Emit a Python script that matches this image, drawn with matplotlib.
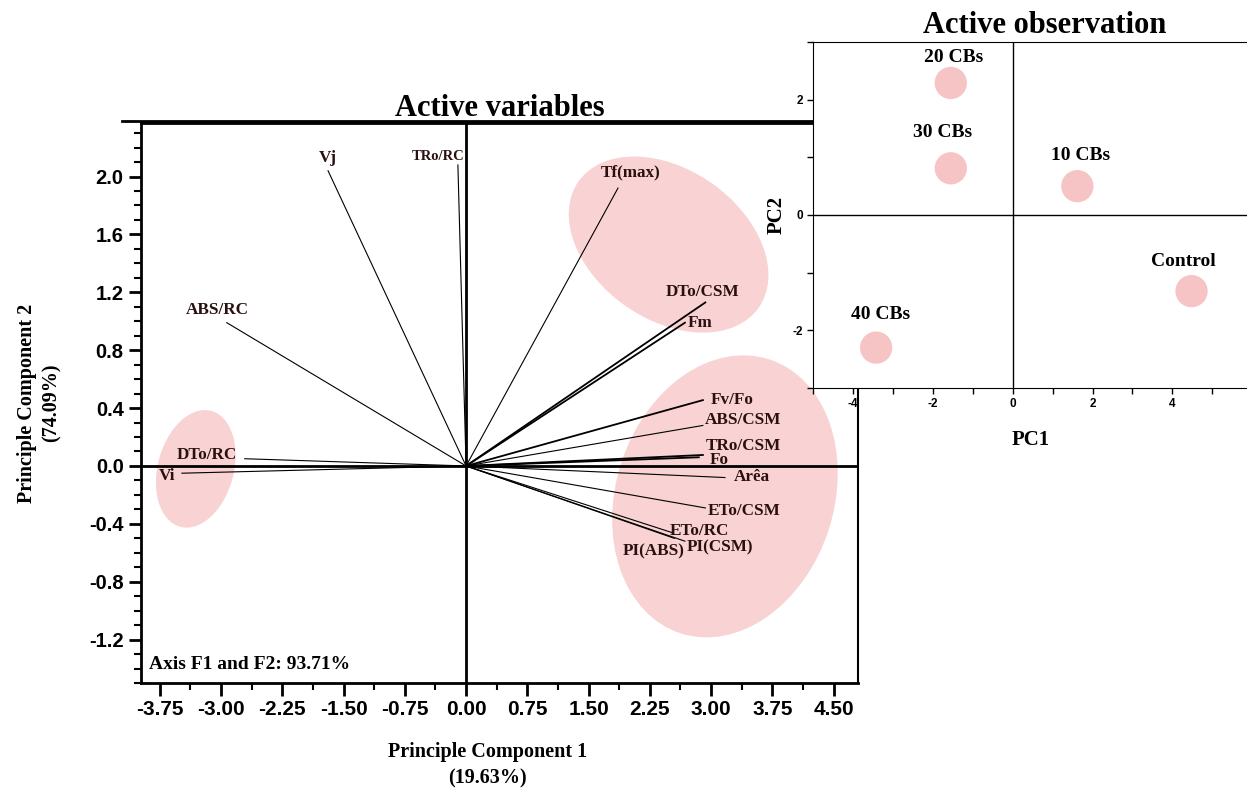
import numpy as np
import matplotlib
matplotlib.use("Agg")
import matplotlib.pyplot as plt
from matplotlib.patches import Ellipse
from matplotlib.ticker import MultipleLocator
import matplotlib.transforms as transforms

plt.rcParams["axes.unicode_minus"] = False

# loadings of the active variables (PC1, PC2)
variables = ["Vj", "TRo/RC", "ABS/RC", "DTo/RC", "Vi", "Tf(max)", "DTo/CSM", "Fm",
             "Fv/Fo", "ABS/CSM", "TRo/CSM", "Fo", "Arêa", "ETo/CSM", "ETo/RC",
             "PI(CSM)", "PI(ABS)"]
pc1_load = [-1.69, -0.10, -2.93, -2.71, -3.48, 1.86, 2.93, 2.68,
            2.90, 2.90, 2.90, 2.85, 3.17, 2.93, 2.52, 2.68, 2.55]
pc2_load = [2.04, 2.08, 0.99, 0.05, -0.05, 1.92, 1.13, 0.99,
            0.455, 0.28, 0.076, 0.06, -0.08, -0.29, -0.46, -0.52, -0.50]

# scores of the active observations
groups = ["20 CBs", "30 CBs", "10 CBs", "Control", "40 CBs"]
pc1_score = [-1.55, -1.55, 1.62, 4.48, -3.42]
pc2_score = [2.29, 0.81, 0.50, -1.32, -2.30]

# where the variable names are written (data units)
label_xy = {
    "Vj": (-1.69, 2.13), "TRo/RC": (-0.34, 2.14), "ABS/RC": (-3.04, 1.08),
    "DTo/RC": (-3.18, 0.076), "Vi": (-3.66, -0.07), "Tf(max)": (2.01, 2.03),
    "DTo/CSM": (2.90, 1.20), "Fm": (2.86, 0.99), "Fv/Fo": (3.26, 0.455),
    "ABS/CSM": (3.39, 0.32), "TRo/CSM": (3.39, 0.14), "Fo": (3.10, 0.04),
    "Arêa": (3.50, -0.076), "ETo/CSM": (3.40, -0.31), "ETo/RC": (2.86, -0.45),
    "PI(CSM)": (3.11, -0.56), "PI(ABS)": (2.30, -0.59),
}
# label offsets above the observation circles (points)
obs_offset = [(2, 18), (-6, 26), (2, 22), (-6, 21), (3, 24)]
thick = {"DTo/CSM", "Fm", "Fv/Fo", "TRo/CSM", "Fo"}

serif = "Liberation Serif"
sans = "Liberation Sans"
pink = "#f9d3d3"
txt = "#2a1010"

fig = plt.figure(figsize=(12.47, 7.91), dpi=100)
ax = fig.add_axes([0.1131, 0.1365, 0.5750, 0.708])
ax.set_xlim(-3.98, 4.80)
ax.set_ylim(-1.50, 2.37)

# pink cluster ellipses (center in data, size in pixels, angle)
def blob(cx, cy, w, h, ang):
    tr = fig.dpi_scale_trans + transforms.ScaledTranslation(cx, cy, ax.transData)
    e = Ellipse((0, 0), w / 100, h / 100, angle=ang, facecolor=pink,
                edgecolor="none", transform=tr, zorder=0)
    ax.add_patch(e)

blob(-3.31, -0.02, 76, 120, -15)
blob(2.48, 1.53, 220, 150, -35)
blob(3.17, -0.21, 218, 288, -18)

ax.axhline(0, color="k", lw=2, zorder=2)
ax.axvline(0, color="k", lw=2, zorder=2)

for name, x, y in zip(variables, pc1_load, pc2_load):
    ax.plot([0, x], [0, y], color="k", lw=1.3 if name in thick else 0.8, zorder=3)
    lx, ly = label_xy[name]
    ax.text(lx, ly, name, ha="center", va="center", color=txt,
            fontsize=10.5 if name == "TRo/RC" else 12.3,
            fontfamily=serif, fontweight="bold", zorder=4)

ax.text(-3.88, -1.37, "Axis F1 and F2: 93.71%", fontsize=14, fontfamily=serif,
        fontweight="bold", va="center")

ax.xaxis.set_major_locator(MultipleLocator(0.75))
ax.xaxis.set_minor_locator(MultipleLocator(0.375))
ax.yaxis.set_major_locator(MultipleLocator(0.4))
ax.yaxis.set_minor_locator(MultipleLocator(0.1))
ax.xaxis.set_major_formatter(plt.FuncFormatter(lambda v, p: f"{v:.2f}"))
ax.yaxis.set_major_formatter(plt.FuncFormatter(lambda v, p: f"{v:.1f}"))
ax.tick_params(which="major", direction="out", length=9, width=2)
ax.tick_params(which="minor", direction="out", length=5, width=1.5)
for lab in ax.get_xticklabels():
    lab.set_fontfamily(sans)
    lab.set_fontweight("bold")
    lab.set_fontsize(15)
for lab in ax.get_yticklabels():
    lab.set_fontfamily(sans)
    lab.set_fontweight("bold")
    lab.set_fontsize(14.5)
for s in ["left", "bottom", "top"]:
    ax.spines[s].set_linewidth(2)
ax.spines["right"].set_linewidth(1.5)
ax.plot([-0.027, 1], [1.003, 1.003], transform=ax.transAxes, color="k", lw=2, clip_on=False)

ax.set_xlabel("Principle Component 1\n(19.63%)", fontfamily=serif, fontweight="bold",
              fontsize=14.5, linespacing=1.45)
ax.xaxis.set_label_coords(0.483, -0.105)
ax.xaxis.label.set_va("top")
ax.set_ylabel("Principle Component 2\n(74.09%)", fontfamily=serif, fontweight="bold",
              fontsize=14.5, labelpad=20, linespacing=1.3)
ax.set_title("Active variables", fontfamily=serif, fontweight="bold", fontsize=22, pad=2)

# inset with the observations
ins = fig.add_axes([0.652, 0.5095, 0.349, 0.4374])
ins.set_xlim(-5, 5.9)
ins.set_ylim(-3, 3)
ins.axhline(0, color="k", lw=1)
ins.axvline(0, color="k", lw=1)
ins.scatter(pc1_score, pc2_score, s=540, color="#f7c4c6", edgecolor="none", zorder=3)
for g, x, y, off in zip(groups, pc1_score, pc2_score, obs_offset):
    ins.annotate(g, (x, y), xytext=off, textcoords="offset points", ha="center",
                 va="center", fontsize=14, fontfamily=serif, fontweight="bold")
ins.xaxis.set_major_locator(MultipleLocator(2))
ins.xaxis.set_minor_locator(MultipleLocator(1))
ins.yaxis.set_major_locator(MultipleLocator(2))
ins.yaxis.set_minor_locator(MultipleLocator(1))
ins.tick_params(which="both", direction="out", length=4, width=1, labelsize=8.5)
for lab in ins.get_xticklabels() + ins.get_yticklabels():
    lab.set_fontweight("bold")
    lab.set_fontfamily(sans)
ins.spines["right"].set_visible(False)
ins.set_xlabel("PC1", fontfamily=serif, fontweight="bold", fontsize=15, labelpad=14)
ins.set_ylabel("PC2", fontfamily=serif, fontweight="bold", fontsize=15, labelpad=4)
fig.text(0.838, 0.968, "Active observation", ha="center", va="center",
         fontfamily=serif, fontweight="bold", fontsize=22)

fig.savefig("out.png", dpi=100)
